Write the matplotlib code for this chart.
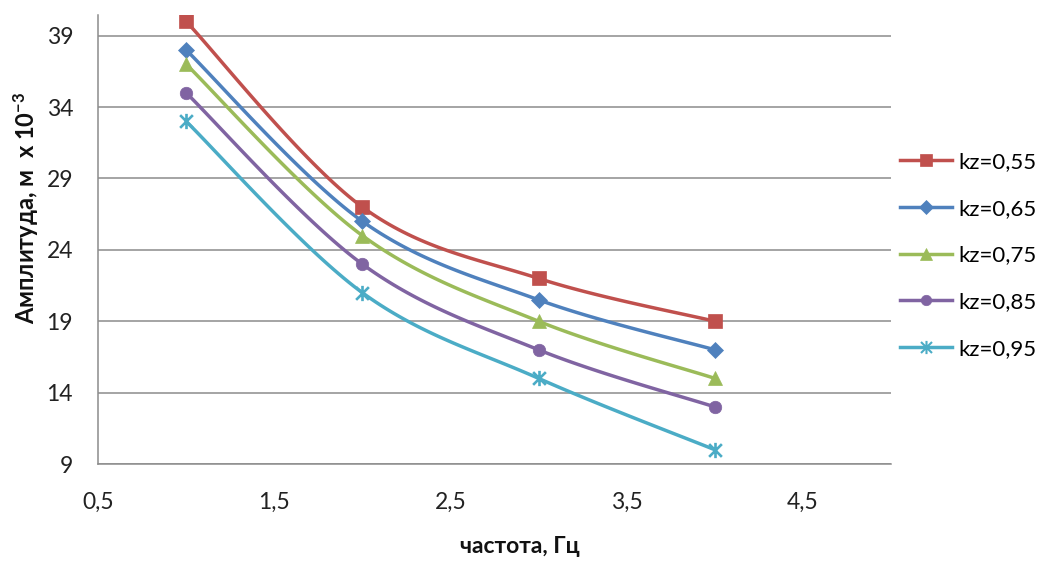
import numpy as np
import matplotlib
matplotlib.use("Agg")
import matplotlib.pyplot as plt
from matplotlib.path import Path
from matplotlib.ticker import FuncFormatter, FixedLocator

plt.rcParams['font.family'] = ['Lato', 'DejaVu Sans']
plt.rcParams['mathtext.fontset'] = 'custom'
plt.rcParams['mathtext.rm'] = 'Lato'
plt.rcParams['mathtext.it'] = 'Lato'
plt.rcParams['mathtext.bf'] = 'Lato:bold'

# frequency, Hz
freq = [1, 2, 3, 4]
labels = ["kz=0,55", "kz=0,65", "kz=0,75", "kz=0,85", "kz=0,95"]
amp_055 = [40, 27, 22, 19]
amp_065 = [38, 26, 20.5, 17]
amp_075 = [37, 25, 19, 15]
amp_085 = [35, 23, 17, 13]
amp_095 = [33, 21, 15, 10]
series = [amp_055, amp_065, amp_075, amp_085, amp_095]

colors = ["#C0504D", "#4F81BD", "#9BBB59", "#8064A2", "#4BACC6"]

# asterisk marker: an "x" with a vertical stroke
star_path = Path(
    [(-0.5, -0.5), (0.5, 0.5), (-0.5, 0.5), (0.5, -0.5), (0, -0.6), (0, 0.6)],
    [Path.MOVETO, Path.LINETO, Path.MOVETO, Path.LINETO, Path.MOVETO, Path.LINETO],
)
markers = ["s", "D", "^", "o", star_path]
msizes = [9.5, 8.5, 9.5, 9, 11]


def smooth(xs, ys, n=40):
    """Bezier smoothing through the points (Catmull-Rom style tangents)."""
    p = np.column_stack([xs, ys]).astype(float)
    out = []
    for i in range(len(p) - 1):
        p0 = p[i - 1] if i > 0 else p[i]
        p1, p2 = p[i], p[i + 1]
        p3 = p[i + 2] if i + 2 < len(p) else p[i + 1]
        c1 = p1 + (p2 - p0) / 6.0
        c2 = p2 - (p3 - p1) / 6.0
        t = np.linspace(0, 1, n)[:, None]
        seg = ((1 - t) ** 3) * p1 + 3 * ((1 - t) ** 2) * t * c1 + 3 * (1 - t) * t ** 2 * c2 + t ** 3 * p2
        out.append(seg if i == 0 else seg[1:])
    return np.vstack(out)


fig = plt.figure(figsize=(10.44, 5.64), dpi=100)
ax = fig.add_axes([0.0939, 0.1773, 0.7595, 0.7961])

handles = []
for ys, lab, c, m, ms in zip(series, labels, colors, markers, msizes):
    curve = smooth(freq, ys)
    ax.plot(curve[:, 0], curve[:, 1], color=c, lw=2.5, solid_capstyle="round", zorder=3)
    is_star = not isinstance(m, str)
    ax.plot(freq, ys, ls="none", marker=m, ms=ms, color=c,
            mfc="none" if is_star else c, mec=c, mew=1.9 if is_star else 0.5, zorder=4)
    h, = ax.plot([], [], color=c, lw=2.5, marker=m, ms=ms - 1.5,
                 mfc="none" if is_star else c, mec=c, mew=1.5 if is_star else 0.5)
    handles.append(h)

ax.set_xlim(0.5, 5.0)
ax.set_ylim(9, 40.45)
ax.xaxis.set_major_locator(FixedLocator([0.5, 1.5, 2.5, 3.5, 4.5]))
ax.yaxis.set_major_locator(FixedLocator([9, 14, 19, 24, 29, 34, 39]))
ax.xaxis.set_major_formatter(FuncFormatter(lambda v, _: f"{v:.1f}".replace(".", ",")))
ax.yaxis.set_major_formatter(FuncFormatter(lambda v, _: f"{v:.0f}"))
ax.tick_params(axis="both", length=0, labelsize=16.5, colors="#222222")
ax.tick_params(axis="y", pad=18)
ax.tick_params(axis="x", pad=20)

ax.grid(axis="y", color="#8c8c8c", lw=1.1)
ax.set_axisbelow(True)
for s in ["top", "right"]:
    ax.spines[s].set_visible(False)
for s in ["left", "bottom"]:
    ax.spines[s].set_color("#8c8c8c")
    ax.spines[s].set_linewidth(1.1)

fig.text(0.024, 0.631, "Амплитуда, м  х 10$^{\\mathregular{-3}}$", rotation=90, ha="center", va="center",
         fontsize=17, fontweight="bold", color="#111111")
fig.text(0.498, 0.012, "частота, Гц", ha="center", va="bottom",
         fontsize=16.5, fontweight="bold", color="#111111")

fig.legend(handles, labels, loc="center left", bbox_to_anchor=(0.862, 0.547),
           frameon=False, fontsize=16, handlelength=2.35, handletextpad=0.27,
           labelspacing=1.2, numpoints=1, borderaxespad=0, borderpad=0)

fig.savefig("out.png", dpi=100)
